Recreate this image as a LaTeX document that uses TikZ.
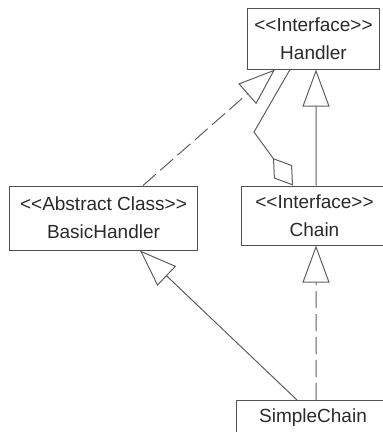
\documentclass[tikz,border=0pt]{standalone}
\usepackage{fontspec}
\setmainfont{Liberation Sans}[Ligatures=TeXOff]
\usetikzlibrary{arrows.meta}

\definecolor{boxline}{HTML}{505050}
\definecolor{connline}{HTML}{5E5E5E}
\definecolor{labeltext}{HTML}{2A2A2A}

\tikzset{
  classbox/.style={draw=boxline, line width=1bp, rectangle, inner sep=0pt,
    align=center, text=labeltext, fill=white,
    font=\fontsize{19bp}{28bp}\selectfont},
  conn/.style={draw=connline, line width=1bp},
  dashedconn/.style={conn, dash pattern=on 17bp off 6bp},
  inherits/.style={-{Triangle[open, length=37bp, width=27bp]}},
  aggregates/.style={-{Diamond[open, length=34bp, width=22.5bp]}}
}

\begin{document}
\begin{tikzpicture}[x=1bp, y=-1bp]
  \useasboundingbox (0,0) rectangle (383,432);
  \clip (0,0) rectangle (383,432);

  % classes and interfaces
  \node[classbox, minimum width=131bp, minimum height=61bp] (hd) at (313.5,38.5)
    {<<Interface>>\\Handler};
  \node[classbox, minimum width=187bp, minimum height=64bp] (bh) at (103.5,218)
    {<<Abstract Class>>\\BasicHandler};
  \node[classbox, minimum width=145bp, minimum height=59bp] (ch) at (314.5,215.5)
    {<<Interface>>\\Chain};
  \node[classbox, anchor=north, minimum width=152bp, inner ysep=8bp,
        text height=14bp, text depth=40bp] (sc) at (313,400) {SimpleChain};

  % bend of the aggregation link
  \coordinate (bend) at (254,132);

  % BasicHandler realizes Handler
  \draw[dashedconn, inherits] ([xshift=39.5bp]bh.north) -- ([xshift=-38.5bp]hd.south);
  % Chain extends Handler
  \draw[conn, inherits] ([xshift=1.5bp]ch.north) -- ([xshift=2.5bp]hd.south);
  % Chain aggregates Handler
  \draw[conn, aggregates] ([xshift=-23.5bp]hd.south) -- (bend) -- ([xshift=-21.5bp]ch.north);
  % SimpleChain realizes Chain
  \draw[dashedconn, inherits] ([xshift=3bp]sc.north) -- ([xshift=1.5bp]ch.south);
  % SimpleChain extends BasicHandler
  \draw[conn, inherits] ([xshift=-16bp]sc.north) -- ([xshift=36.5bp]bh.south);
\end{tikzpicture}
\end{document}
